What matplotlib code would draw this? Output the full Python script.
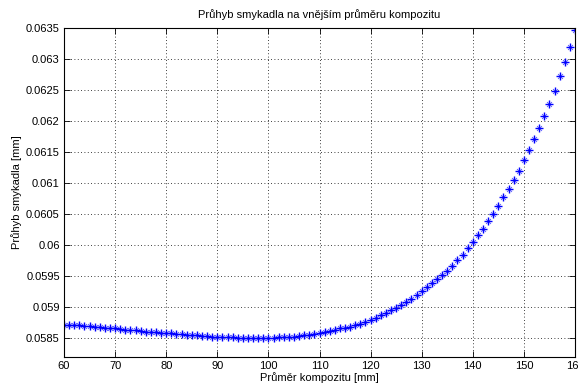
import numpy as np
import matplotlib
matplotlib.use("Agg")
import matplotlib.pyplot as plt
from matplotlib.ticker import FuncFormatter

plt.rcParams["font.family"] = ["Liberation Sans", "DejaVu Sans"]
plt.rcParams["font.size"] = 8

# prumer kompozitu [mm]
prumer = np.arange(60, 161, 1)

# pruhyb smykadla [mm]
pruhyb = [
    0.05872, 0.05872, 0.05871, 0.05871, 0.05870, 0.05870, 0.05869, 0.05868, 0.05867, 0.05867,
    0.05866, 0.05865, 0.05864, 0.05864, 0.05863, 0.05862, 0.05861, 0.05861, 0.05860, 0.05859,
    0.05859, 0.05858, 0.05857, 0.05857, 0.05856, 0.05855, 0.05855, 0.05854, 0.05854, 0.05853,
    0.05853, 0.05852, 0.05852, 0.05852, 0.05851, 0.05851, 0.05851, 0.05851, 0.05851, 0.05851,
    0.05851, 0.05851, 0.05852, 0.05852, 0.05853, 0.05853, 0.05854, 0.05855, 0.05856, 0.05857,
    0.05859, 0.05860, 0.05862, 0.05864, 0.05866, 0.05867, 0.05869, 0.05871, 0.05873, 0.05876,
    0.05879, 0.05883, 0.05887, 0.05891, 0.05895, 0.05899, 0.05904, 0.05909, 0.05914, 0.05920,
    0.05926, 0.05932, 0.05939, 0.05945, 0.05952, 0.05959, 0.05967, 0.05976, 0.05985, 0.05995,
    0.06005, 0.06016, 0.06027, 0.06039, 0.06051, 0.06064, 0.06077, 0.06091, 0.06105, 0.06120,
    0.06137, 0.06154, 0.06171, 0.06189, 0.06208, 0.06228, 0.06249, 0.06272, 0.06295, 0.06320,
    0.06346,
]

x_ticks = np.arange(60, 161, 10)
y_ticks = [0.0585, 0.059, 0.0595, 0.06, 0.0605, 0.061, 0.0615, 0.062, 0.0625, 0.063, 0.0635]

fig = plt.figure(figsize=(5.78, 3.87), dpi=100)
ax = fig.add_axes([64 / 578, 1 - 357 / 387, 511 / 578, 329 / 387])

# matlab-like '*' marker: bold plus, thin diagonals
ax.plot(prumer, pruhyb, linestyle="none", marker=(4, 2, 45), markersize=5,
        markeredgewidth=0.5, color="#6a6aff")
ax.plot(prumer, pruhyb, linestyle="none", marker="+", markersize=5.5,
        markeredgewidth=1.0, color="blue")

ax.set_xlim(60, 160)
ax.set_ylim(0.0582, 0.0635)
ax.set_xticks(x_ticks)
ax.set_yticks(y_ticks)
ax.yaxis.set_major_formatter(FuncFormatter(lambda v, p: f"{v:.4f}".rstrip("0")))
ax.grid(True, linestyle=(0, (1, 3)), color="black", linewidth=0.6)
ax.tick_params(direction="in", top=True, right=True, length=4, width=0.6, pad=3)
for s in ax.spines.values():
    s.set_linewidth(0.8)

ax.set_title("Průhyb smykadla na vnějším průměru kompozitu", fontsize=8, pad=7)
ax.set_xlabel("Průměr kompozitu [mm]", labelpad=1)
ax.set_ylabel("Průhyb smykadla [mm]", labelpad=3)

fig.savefig("out.png", dpi=100)
